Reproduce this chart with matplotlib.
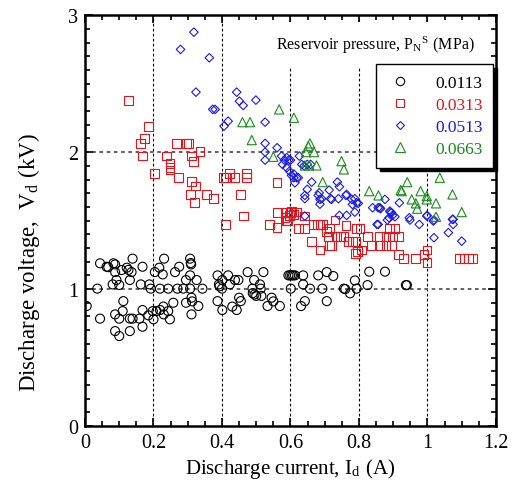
import matplotlib
matplotlib.use("Agg")
import matplotlib.pyplot as plt
from matplotlib.lines import Line2D
from matplotlib.ticker import MultipleLocator

plt.rcParams['font.family'] = ['Liberation Serif', 'DejaVu Serif']
plt.rcParams['mathtext.fontset'] = 'stix'

### Data (Id in A, Vd in kV)
labels = ["0.0113", "0.0313", "0.0513", "0.0663"]
colours = ["black", "#e8141b", "#1a1ae6", "#1a8c1a"]

i_0113 = [0.005, 0.044, 0.036, 0.044, 0.063, 0.068, 0.083, 0.088, 0.088, 0.081, 0.092, 0.100,
          0.107, 0.122, 0.127, 0.136, 0.139, 0.131, 0.112, 0.110, 0.088, 0.100, 0.088, 0.100,
          0.131, 0.131, 0.139, 0.159, 0.168, 0.168, 0.168, 0.163, 0.188, 0.192, 0.185, 0.198,
          0.200, 0.209, 0.204, 0.217, 0.227, 0.231, 0.219, 0.219, 0.229, 0.230, 0.243, 0.243,
          0.248, 0.258, 0.263, 0.275, 0.270, 0.287, 0.295, 0.295, 0.307, 0.309, 0.310, 0.307,
          0.307, 0.311, 0.313, 0.311, 0.326, 0.331, 0.343, 0.387, 0.391, 0.393, 0.400, 0.401,
          0.418, 0.423, 0.438, 0.448, 0.387, 0.401, 0.430, 0.443, 0.450, 0.455, 0.475, 0.494,
          0.489, 0.490, 0.495, 0.500, 0.511, 0.513, 0.515, 0.521, 0.533, 0.545, 0.550, 0.569,
          0.594, 0.599, 0.604, 0.608, 0.613, 0.601, 0.637, 0.637, 0.657, 0.631, 0.642, 0.681,
          0.693, 0.706, 0.706, 0.725, 0.756, 0.760, 0.774, 0.788, 0.793, 0.825, 0.830, 0.876,
          0.937, 0.940]
v_0113 = [0.876, 1.188, 1.003, 0.784, 1.163, 1.160, 1.188, 1.180, 1.124, 1.034, 1.066, 1.030,
          1.139, 1.156, 1.140, 1.124, 1.222, 1.066, 0.912, 0.839, 0.815, 0.784, 0.693, 0.657,
          0.693, 0.784, 0.784, 0.784, 0.847, 0.725, 1.163, 1.034, 1.034, 1.003, 0.808, 0.839,
          0.779, 0.839, 1.124, 1.156, 1.107, 1.222, 1.003, 0.847, 0.872, 0.815, 0.839, 1.003,
          0.779, 0.900, 1.124, 1.163, 1.003, 1.003, 1.066, 0.900, 1.222, 1.190, 1.180, 1.100,
          1.003, 0.937, 0.910, 0.815, 1.066, 0.876, 1.003, 1.100, 1.034, 1.020, 1.003, 1.066,
          1.100, 1.034, 1.066, 1.066, 0.912, 0.847, 0.872, 0.847, 0.937, 0.912, 1.124, 1.066,
          1.003, 0.970, 0.960, 0.950, 1.034, 1.003, 0.950, 1.124, 0.876, 0.937, 0.910, 0.876,
          1.100, 1.100, 1.100, 1.100, 1.100, 1.003, 1.100, 1.034, 1.003, 0.876, 0.912, 1.100,
          1.003, 1.124, 0.912, 1.095, 1.003, 1.000, 0.969, 1.063, 1.003, 1.029, 1.127, 1.127,
          1.029, 1.029]

i_0313 = [0.128, 0.185, 0.173, 0.161, 0.167, 0.204, 0.239, 0.248, 0.248, 0.248, 0.268, 0.297,
          0.302, 0.274, 0.311, 0.316, 0.336, 0.311, 0.323, 0.307, 0.319, 0.355, 0.375, 0.404,
          0.410, 0.423, 0.438, 0.472, 0.472, 0.455, 0.462, 0.411, 0.538, 0.561, 0.561, 0.561,
          0.584, 0.591, 0.601, 0.608, 0.623, 0.589, 0.597, 0.603, 0.618, 0.589, 0.642, 0.642,
          0.662, 0.667, 0.678, 0.686, 0.694, 0.686, 0.706, 0.710, 0.715, 0.720, 0.730, 0.735,
          0.745, 0.754, 0.762, 0.769, 0.781, 0.791, 0.793, 0.795, 0.808, 0.791, 0.824, 0.837,
          0.859, 0.879, 0.895, 0.859, 0.879, 0.898, 0.915, 0.890, 0.905, 0.803, 0.915, 0.929,
          0.966, 0.990, 0.999, 0.999, 1.093, 1.107, 1.119, 1.132, 0.715]
v_0313 = [2.377, 2.190, 2.098, 2.061, 1.971, 1.842, 1.971, 1.915, 1.890, 1.870, 2.061, 2.061,
          2.061, 1.813, 1.971, 1.934, 2.003, 1.784, 1.752, 1.691, 1.631, 1.691, 1.660, 1.813,
          1.813, 1.842, 1.813, 1.842, 1.813, 1.691, 1.533, 1.472, 1.472, 1.448, 1.557, 1.781,
          1.520, 1.497, 1.557, 1.545, 1.441, 1.562, 1.538, 1.569, 1.562, 1.497, 1.441, 1.533,
          1.350, 1.472, 1.472, 1.472, 1.472, 1.285, 1.423, 1.382, 1.441, 1.319, 1.504, 1.382,
          1.382, 1.382, 1.465, 1.350, 1.350, 1.350, 1.441, 1.277, 1.285, 1.261, 1.382, 1.319,
          1.319, 1.319, 1.319, 1.382, 1.382, 1.382, 1.382, 1.441, 1.441, 1.441, 1.253, 1.222,
          1.222, 1.253, 1.285, 1.193, 1.222, 1.222, 1.222, 1.222, 1.319]

i_0513 = [0.318, 0.279, 0.363, 0.324, 0.443, 0.451, 0.462, 0.499, 0.373, 0.380, 0.418, 0.406,
          0.526, 0.526, 0.561, 0.526, 0.526, 0.574, 0.582, 0.595, 0.600, 0.577, 0.589, 0.597,
          0.603, 0.610, 0.618, 0.623, 0.613, 0.626, 0.633, 0.640, 0.649, 0.659, 0.662, 0.649,
          0.642, 0.642, 0.681, 0.686, 0.686, 0.713, 0.717, 0.737, 0.743, 0.740, 0.762, 0.642,
          0.743, 0.764, 0.788, 0.781, 0.798, 0.788, 0.840, 0.856, 0.853, 0.589, 0.610, 0.684,
          0.691, 0.720, 0.764, 0.779, 0.793, 0.863, 0.876, 0.890, 0.895, 0.918, 0.947, 0.998,
          1.075, 0.861, 0.892, 0.898, 0.888, 0.905, 0.883, 0.856, 0.949, 0.976, 0.999, 1.017,
          1.019, 1.061, 1.073, 1.075, 1.100, 1.019]
v_0513 = [2.876, 2.750, 2.689, 2.438, 2.438, 2.372, 2.341, 2.380, 2.312, 2.312, 2.226, 2.190,
          2.219, 2.064, 2.032, 2.000, 1.942, 1.971, 1.942, 1.942, 1.942, 1.910, 1.886, 1.861,
          1.830, 1.813, 1.813, 1.813, 1.776, 1.971, 1.910, 1.900, 1.910, 1.910, 1.781, 1.728,
          1.684, 1.660, 1.684, 1.655, 1.620, 1.723, 1.660, 1.781, 1.747, 1.660, 1.684, 1.533,
          1.538, 1.538, 1.660, 1.618, 1.626, 1.562, 1.594, 1.594, 1.472, 1.960, 1.840, 1.703,
          1.660, 1.655, 1.691, 1.655, 1.630, 1.587, 1.655, 1.569, 1.557, 1.630, 1.521, 1.533,
          1.509, 1.594, 1.562, 1.538, 1.521, 1.528, 1.504, 1.472, 1.504, 1.472, 1.538, 1.497,
          1.375, 1.412, 1.509, 1.472, 1.350, 1.504]

i_0663 = [0.460, 0.482, 0.487, 0.567, 0.610, 0.550, 0.657, 0.645, 0.669, 0.642, 0.655, 0.676,
          0.652, 0.749, 0.756, 0.694, 0.830, 0.857, 0.941, 0.922, 1.036, 0.980, 0.998, 0.998,
          0.954, 0.966, 0.970, 1.025, 1.025, 1.073, 1.100, 0.925]
v_0663 = [2.219, 2.219, 2.088, 2.312, 2.251, 1.966, 2.064, 2.000, 2.000, 1.903, 1.903, 1.903,
          2.044, 1.934, 1.874, 1.781, 1.715, 1.684, 1.781, 1.723, 1.813, 1.715, 1.679, 1.655,
          1.655, 1.626, 1.587, 1.626, 1.528, 1.691, 1.562, 1.715]

series_i = [i_0113, i_0313, i_0513, i_0663]
series_v = [v_0113, v_0313, v_0513, v_0663]
markers = ["o", "s", "D", "^"]
sizes = [42, 40, 19, 44]

fig = plt.figure(figsize=(5.15, 4.85), dpi=100)
ax = fig.add_axes([0.165, 0.1196, 0.798, 0.847])

# grid lines, drawn first so markers sit on top
for gx in [0.2, 0.4, 0.6, 0.8, 1.0]:
    ax.axvline(gx, color="black", lw=0.8, ls=(0, (2.5, 2)), zorder=1)
for gy in [1, 2]:
    ax.axhline(gy, color="#555555", lw=1.3, ls=(0, (2, 2)), zorder=1)

for idx in range(4):
    ax.scatter(series_i[idx], series_v[idx], s=sizes[idx], marker=markers[idx],
               facecolors="none", edgecolors=colours[idx], linewidths=0.8, zorder=3)

ax.set_xlim(0, 1.2)
ax.set_ylim(0, 3)
ax.xaxis.set_major_locator(MultipleLocator(0.2))
ax.xaxis.set_minor_locator(MultipleLocator(0.05))
ax.yaxis.set_major_locator(MultipleLocator(1))
ax.yaxis.set_minor_locator(MultipleLocator(0.1))
ax.xaxis.set_major_formatter(plt.FuncFormatter(lambda v, p: f"{v:g}"))
ax.tick_params(which="both", direction="in", top=True, right=True, labelsize=14.5, width=1.2)
ax.tick_params(which="major", length=6, pad=5)
ax.tick_params(which="minor", length=3.5)
for sp in ax.spines.values():
    sp.set_linewidth(1.8)

ax.set_xlabel(r"Discharge current, I$_\mathregular{d}$ (A)", fontsize=15, labelpad=3)
ax.set_ylabel(r"Discharge voltage,  V$_\mathregular{d}$ (kV)", fontsize=16.5)
ax.yaxis.set_label_coords(-0.105, 0.40)

ax.text(0.847, 2.785, r"Reservoir pressure, P$_\mathregular{N}$$^\mathregular{S}$ (MPa)",
        fontsize=11.5, ha="center", va="center", zorder=4,
        bbox=dict(facecolor="white", edgecolor="none", pad=9))

handles = [Line2D([], [], ls="none", marker=markers[k], markersize=[6, 6, 4.5, 6.5][k],
                  markerfacecolor="none", markeredgecolor=colours[k], markeredgewidth=0.8)
           for k in range(4)]
leg = ax.legend(handles, labels, loc="upper right", bbox_to_anchor=(0.993, 0.881),
                fontsize=12.5, frameon=True, fancybox=False, edgecolor="black",
                shadow={"color": "black", "alpha": 1, "ox": 2.5, "oy": -2.5},
                borderpad=0.6, labelspacing=0.35, handletextpad=1.3, handlelength=1.5,
                borderaxespad=0)
leg.get_frame().set_linewidth(1.0)
leg.set_zorder(5)
for t, c in zip(leg.get_texts(), colours):
    t.set_color(c)

plt.savefig("out.png", dpi=100)
